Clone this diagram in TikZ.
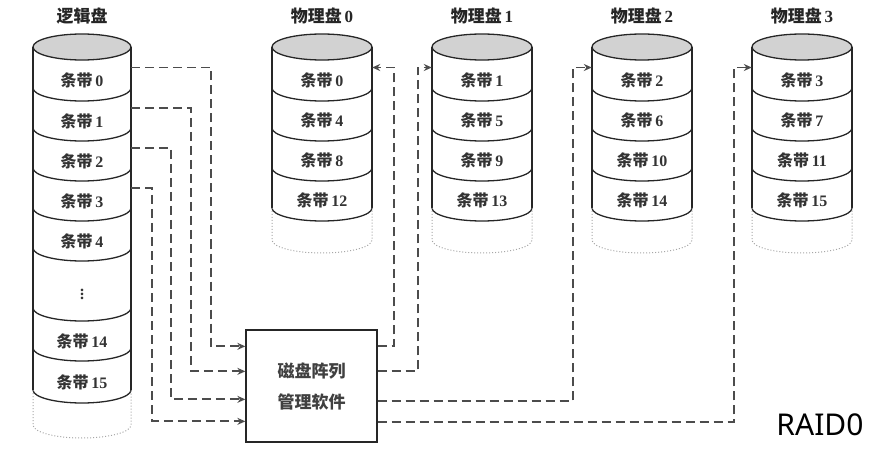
\documentclass[tikz,border=0pt]{standalone}
\usepackage{fontspec}
\setmainfont{Liberation Serif}
\newfontfamily\cjk{Noto Sans CJK SC}
\newfontfamily\sansf{Noto Sans}
\usetikzlibrary{arrows.meta, positioning, calc}

\begin{document}
\begin{tikzpicture}[x=1pt, y=1pt,
    band/.style={rectangle, inner sep=0pt, minimum width=#1, minimum height=40pt},
    band/.default=100pt,
    lbl/.style={font=\fontsize{16pt}{18pt}\selectfont\bfseries, text=black!80, yshift=-13pt},
    title/.style={font=\fontsize{17pt}{19pt}\selectfont\bfseries, text=black!85},
    disktop/.style={draw=black!85, line width=1.3pt, fill=gray!35},
    diskline/.style={draw=black!85, line width=1.3pt},
    diskdots/.style={draw=gray!70, line width=1pt, dotted},
    mgrbox/.style={rectangle, draw=black!85, line width=1.3pt, minimum width=131pt,
                   minimum height=112pt, align=center,
                   font=\cjk\fontsize{17pt}{31pt}\selectfont\bfseries, text=black!75},
    link/.style={draw=black!70, line width=1.8pt, dash pattern=on 9pt off 5pt,
                 -{Stealth[length=8pt, width=7pt]}}
]
    \useasboundingbox (0,0) rectangle (878,-457);

    % logical disk
    \node[title] (Tlog) at (82,-16) {\cjk 逻辑盘};
    \draw[disktop] (82,-47) ellipse (49 and 13);
    \draw[diskline] (33,-47) -- (33,-390) (131,-47) -- (131,-390);
    \foreach \lv in {88,128,168,208,248,308,348,390}
        \draw[diskline] (33,-\lv) arc[start angle=180, end angle=360, x radius=49, y radius=13];
    \draw[diskdots] (33,-390) -- (33,-425) arc[start angle=180, end angle=360, x radius=49, y radius=13] -- (131,-390);
    \foreach \n/\yc in {0/67.5, 1/108, 2/148, 3/188, 4/228}
        \node[band=98pt, label={[lbl]center:{\cjk 条带}\,\n}] (L\n) at (82,-\yc) {};
    \node[band=98pt, minimum height=60pt, label={[lbl]center:$\vdots$}] (Ldots) at (82,-278) {};
    \node[band=98pt, label={[lbl]center:{\cjk 条带}\,14}] (L14) at (82,-328) {};
    \node[band=98pt, minimum height=42pt, label={[lbl]center:{\cjk 条带}\,15}] (L15) at (82,-369) {};

    % physical disks
    \foreach \d/\cx in {0/322, 1/482, 2/642, 3/802} {
        \node[title] (T\d) at (\cx,-16) {{\cjk 物理盘}\,\d};
        \draw[disktop] (\cx,-47) ellipse (50 and 13);
        \draw[diskline] ({\cx-50},-47) -- ({\cx-50},-208) ({\cx+50},-47) -- ({\cx+50},-208);
        \foreach \lv in {88,128,168,208}
            \draw[diskline] ({\cx-50},-\lv) arc[start angle=180, end angle=360, x radius=50, y radius=13];
        \draw[diskdots] ({\cx-50},-208) -- ({\cx-50},-240) arc[start angle=180, end angle=360, x radius=50, y radius=13] -- ({\cx+50},-208);
        \foreach \r in {0,...,3} {
            \pgfmathtruncatemacro\s{\d+4*\r}
            \pgfmathsetmacro\yc{67.5+40*\r}
            \node[band, label={[lbl]center:{\cjk 条带}\,\s}] (P\d\r) at (\cx,-\yc) {};
        }
    }

    % array manager
    \node[mgrbox] (mgr) at (311.5,-386) {磁盘阵列\\管理软件};

    % logical stripes to manager
    \draw[link] (L0.east) -- ++(80,0) |- ([yshift=-17pt]mgr.north west);
    \draw[link] (L1.east) -- ++(60,0) |- ([yshift=-42pt]mgr.north west);
    \draw[link] (L2.east) -- ++(40,0) |- ([yshift=-70pt]mgr.north west);
    \draw[link] (L3.east) -- ++(21,0) |- ([yshift=-92pt]mgr.north west);

    % manager to physical disks
    \draw[link] ([yshift=-17pt]mgr.north east) -- ++(16,0) |- (P00.east);
    \draw[link] ([yshift=-42pt]mgr.north east) -- ++(40,0) |- (P10.west);
    \draw[link] ([yshift=-72pt]mgr.north east) -- ++(195,0) |- (P20.west);
    \draw[link] ([yshift=-93pt]mgr.north east) -- ++(356,0) |- (P30.west);

    \node[font=\sansf\fontsize{30pt}{34pt}\selectfont] (raid) at (820,-425) {RAID0};
\end{tikzpicture}
\end{document}
